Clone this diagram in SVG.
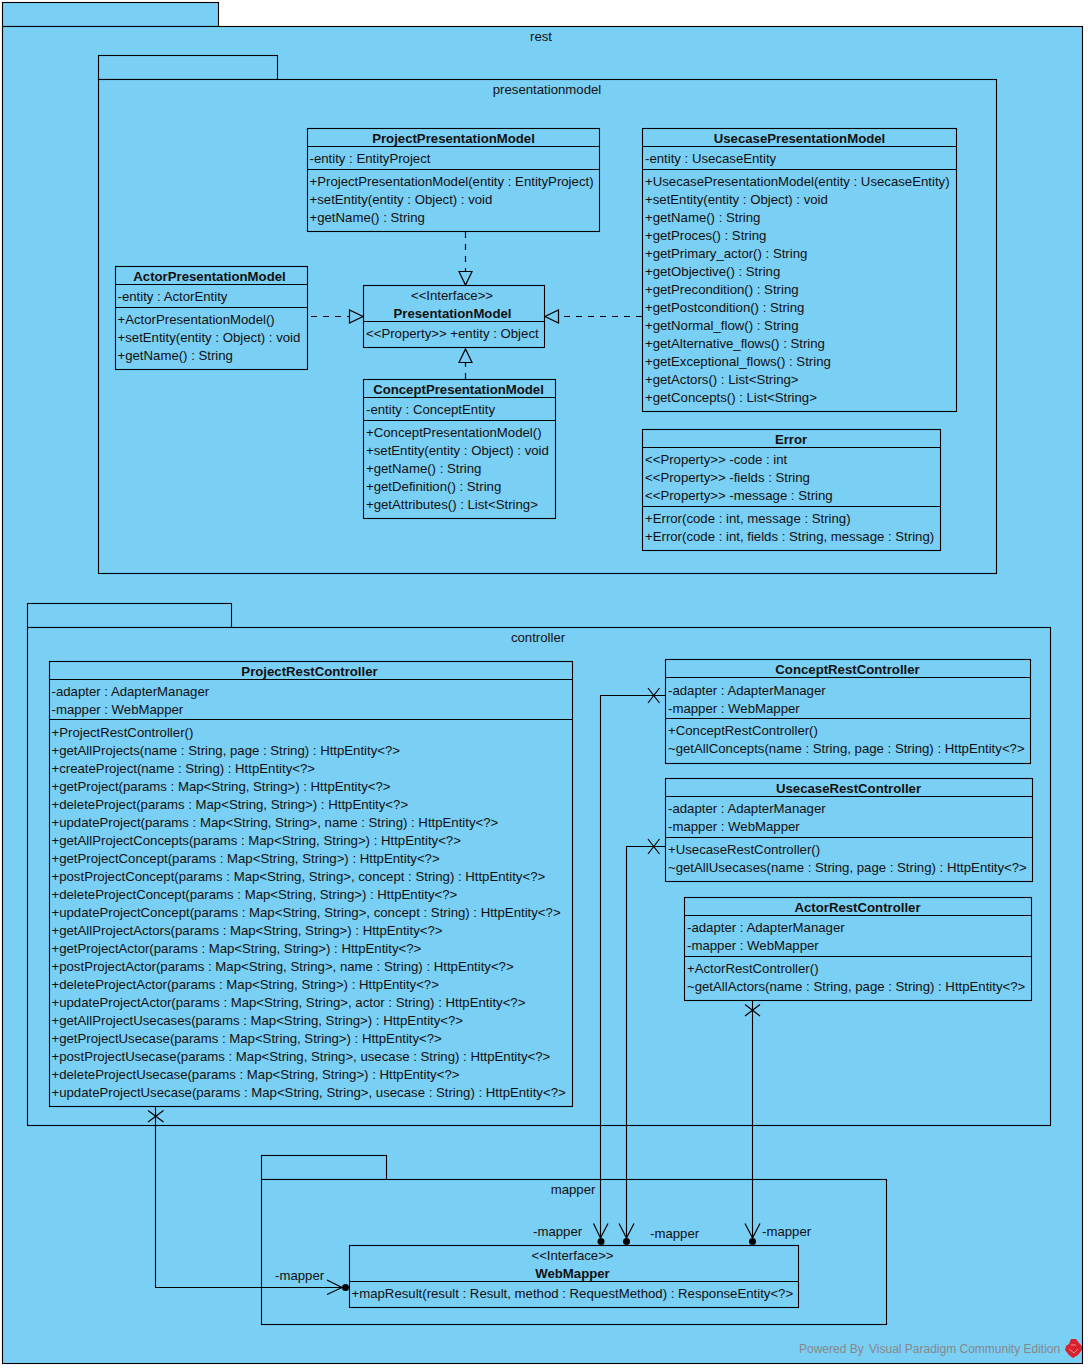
<svg xmlns="http://www.w3.org/2000/svg" width="1088" height="1369" viewBox="0 0 1088 1369">
<style>
text{font-family:"Liberation Sans",Arial,sans-serif;font-size:13.2px;fill:#111}
.t{font-weight:bold;text-anchor:middle}
.c{text-anchor:middle}
.n{fill:#7acff5;stroke:#000;stroke-width:1.1}
.l{fill:none;stroke:#000;stroke-width:1.1}
.k{fill:none;stroke:#000;stroke-width:1.2}
.d{fill:none;stroke:#000;stroke-width:1.2;stroke-dasharray:6 6}
.h{fill:#7acff5;stroke:#000;stroke-width:1.2}
.p{fill:#000}
.w{fill:#888;font-size:12px}
</style>
<rect width="1088" height="1369" fill="#fff"/>
<g id="pkg-rest">
<rect class="n" x="2.5" y="2.5" width="216" height="24"/>
<rect class="n" x="2.5" y="26.5" width="1080" height="1337"/>
<text class="c" x="541" y="41">rest</text>
</g>
<g id="pkg-presentationmodel">
<rect class="n" x="98.5" y="55.5" width="179" height="24"/>
<rect class="n" x="98.5" y="79.5" width="898" height="494"/>
<text class="c" x="547" y="94">presentationmodel</text>
</g>
<g id="pkg-controller">
<rect class="n" x="27.5" y="603.5" width="204" height="24"/>
<rect class="n" x="27.5" y="627.5" width="1023" height="498"/>
<text class="c" x="538" y="642">controller</text>
</g>
<g id="pkg-mapper">
<rect class="n" x="261.5" y="1155.5" width="125" height="24"/>
<rect class="n" x="261.5" y="1179.5" width="625" height="145"/>
<text class="c" x="573" y="1194">mapper</text>
</g>
<g id="ProjectPresentationModel">
<rect class="n" x="307.5" y="128.5" width="292" height="103"/>
<path class="l" d="M307.5 146.5H599.5M307.5 169.5H599.5"/>
<text class="t" x="453.500" y="143">ProjectPresentationModel</text>
<text x="309.500" y="163">-entity : EntityProject</text>
<text x="309.500" y="186">+ProjectPresentationModel(entity : EntityProject)</text>
<text x="309.500" y="204">+setEntity(entity : Object) : void</text>
<text x="309.500" y="222">+getName() : String</text>
</g>
<g id="UsecasePresentationModel">
<rect class="n" x="642.5" y="128.5" width="314" height="283"/>
<path class="l" d="M642.5 146.5H956.5M642.5 169.5H956.5"/>
<text class="t" x="799.5" y="143">UsecasePresentationModel</text>
<text x="645" y="163">-entity : UsecaseEntity</text>
<text x="645" y="186">+UsecasePresentationModel(entity : UsecaseEntity)</text>
<text x="645" y="204">+setEntity(entity : Object) : void</text>
<text x="645" y="222">+getName() : String</text>
<text x="645" y="240">+getProces() : String</text>
<text x="645" y="258">+getPrimary_actor() : String</text>
<text x="645" y="276">+getObjective() : String</text>
<text x="645" y="294">+getPrecondition() : String</text>
<text x="645" y="312">+getPostcondition() : String</text>
<text x="645" y="330">+getNormal_flow() : String</text>
<text x="645" y="348">+getAlternative_flows() : String</text>
<text x="645" y="366">+getExceptional_flows() : String</text>
<text x="645" y="384">+getActors() : List&lt;String&gt;</text>
<text x="645" y="402">+getConcepts() : List&lt;String&gt;</text>
</g>
<g id="ActorPresentationModel">
<rect class="n" x="115.5" y="266.5" width="192" height="103"/>
<path class="l" d="M115.5 284.5H307.5M115.5 307.5H307.5"/>
<text class="t" x="209.5" y="281">ActorPresentationModel</text>
<text x="117.500" y="301">-entity : ActorEntity</text>
<text x="117.500" y="324">+ActorPresentationModel()</text>
<text x="117.500" y="342">+setEntity(entity : Object) : void</text>
<text x="117.500" y="360">+getName() : String</text>
</g>
<g id="PresentationModel">
<rect class="n" x="363.5" y="285.5" width="181" height="62"/>
<path class="l" d="M363.5 321.5H544.5"/>
<text class="c" x="452" y="300">&lt;&lt;Interface&gt;&gt;</text>
<text class="t" x="452.5" y="318">PresentationModel</text>
<text x="366" y="338">&lt;&lt;Property&gt;&gt; +entity : Object</text>
</g>
<g id="ConceptPresentationModel">
<rect class="n" x="363.5" y="379.5" width="192" height="139"/>
<path class="l" d="M363.5 397.5H555.5M363.5 420.5H555.5"/>
<text class="t" x="458.5" y="394">ConceptPresentationModel</text>
<text x="366" y="414">-entity : ConceptEntity</text>
<text x="366" y="437">+ConceptPresentationModel()</text>
<text x="366" y="455">+setEntity(entity : Object) : void</text>
<text x="366" y="473">+getName() : String</text>
<text x="366" y="491">+getDefinition() : String</text>
<text x="366" y="509">+getAttributes() : List&lt;String&gt;</text>
</g>
<g id="Error">
<rect class="n" x="642.5" y="429.5" width="298" height="121"/>
<path class="l" d="M642.5 447.5H940.5M642.5 506.5H940.5"/>
<text class="t" x="791" y="444">Error</text>
<text x="645" y="464">&lt;&lt;Property&gt;&gt; -code : int</text>
<text x="645" y="482">&lt;&lt;Property&gt;&gt; -fields : String</text>
<text x="645" y="500">&lt;&lt;Property&gt;&gt; -message : String</text>
<text x="645" y="523">+Error(code : int, message : String)</text>
<text x="645" y="541">+Error(code : int, fields : String, message : String)</text>
</g>
<g id="ProjectRestController">
<rect class="n" x="49.5" y="661.5" width="523" height="445"/>
<path class="l" d="M49.5 679.5H572.5M49.5 719.5H572.5"/>
<text class="t" x="309.5" y="676">ProjectRestController</text>
<text x="51.500" y="696">-adapter : AdapterManager</text>
<text x="51.500" y="714">-mapper : WebMapper</text>
<text x="51.500" y="737">+ProjectRestController()</text>
<text x="51.500" y="755">+getAllProjects(name : String, page : String) : HttpEntity&lt;?&gt;</text>
<text x="51.500" y="773">+createProject(name : String) : HttpEntity&lt;?&gt;</text>
<text x="51.500" y="791">+getProject(params : Map&lt;String, String&gt;) : HttpEntity&lt;?&gt;</text>
<text x="51.500" y="809">+deleteProject(params : Map&lt;String, String&gt;) : HttpEntity&lt;?&gt;</text>
<text x="51.500" y="827">+updateProject(params : Map&lt;String, String&gt;, name : String) : HttpEntity&lt;?&gt;</text>
<text x="51.500" y="845">+getAllProjectConcepts(params : Map&lt;String, String&gt;) : HttpEntity&lt;?&gt;</text>
<text x="51.500" y="863">+getProjectConcept(params : Map&lt;String, String&gt;) : HttpEntity&lt;?&gt;</text>
<text x="51.500" y="881">+postProjectConcept(params : Map&lt;String, String&gt;, concept : String) : HttpEntity&lt;?&gt;</text>
<text x="51.500" y="899">+deleteProjectConcept(params : Map&lt;String, String&gt;) : HttpEntity&lt;?&gt;</text>
<text x="51.500" y="917">+updateProjectConcept(params : Map&lt;String, String&gt;, concept : String) : HttpEntity&lt;?&gt;</text>
<text x="51.500" y="935">+getAllProjectActors(params : Map&lt;String, String&gt;) : HttpEntity&lt;?&gt;</text>
<text x="51.500" y="953">+getProjectActor(params : Map&lt;String, String&gt;) : HttpEntity&lt;?&gt;</text>
<text x="51.500" y="971">+postProjectActor(params : Map&lt;String, String&gt;, name : String) : HttpEntity&lt;?&gt;</text>
<text x="51.500" y="989">+deleteProjectActor(params : Map&lt;String, String&gt;) : HttpEntity&lt;?&gt;</text>
<text x="51.500" y="1007">+updateProjectActor(params : Map&lt;String, String&gt;, actor : String) : HttpEntity&lt;?&gt;</text>
<text x="51.500" y="1025">+getAllProjectUsecases(params : Map&lt;String, String&gt;) : HttpEntity&lt;?&gt;</text>
<text x="51.500" y="1043">+getProjectUsecase(params : Map&lt;String, String&gt;) : HttpEntity&lt;?&gt;</text>
<text x="51.500" y="1061">+postProjectUsecase(params : Map&lt;String, String&gt;, usecase : String) : HttpEntity&lt;?&gt;</text>
<text x="51.500" y="1079">+deleteProjectUsecase(params : Map&lt;String, String&gt;) : HttpEntity&lt;?&gt;</text>
<text x="51.500" y="1097">+updateProjectUsecase(params : Map&lt;String, String&gt;, usecase : String) : HttpEntity&lt;?&gt;</text>
</g>
<g id="ConceptRestController">
<rect class="n" x="665.5" y="659.5" width="365" height="104"/>
<path class="l" d="M665.5 677.5H1030.5M665.5 718.5H1030.5"/>
<text class="t" x="847.5" y="674">ConceptRestController</text>
<text x="668" y="695">-adapter : AdapterManager</text>
<text x="668" y="713">-mapper : WebMapper</text>
<text x="668" y="735">+ConceptRestController()</text>
<text x="668" y="753">~getAllConcepts(name : String, page : String) : HttpEntity&lt;?&gt;</text>
</g>
<g id="UsecaseRestController">
<rect class="n" x="665.5" y="778.5" width="367" height="103"/>
<path class="l" d="M665.5 796.5H1032.5M665.5 837.5H1032.5"/>
<text class="t" x="848.5" y="793">UsecaseRestController</text>
<text x="668" y="813">-adapter : AdapterManager</text>
<text x="668" y="831">-mapper : WebMapper</text>
<text x="668" y="854">+UsecaseRestController()</text>
<text x="668" y="872">~getAllUsecases(name : String, page : String) : HttpEntity&lt;?&gt;</text>
</g>
<g id="ActorRestController">
<rect class="n" x="684.5" y="897.5" width="347" height="103"/>
<path class="l" d="M684.5 915.5H1031.5M684.5 956.5H1031.5"/>
<text class="t" x="857.5" y="912">ActorRestController</text>
<text x="687" y="932">-adapter : AdapterManager</text>
<text x="687" y="950">-mapper : WebMapper</text>
<text x="687" y="973">+ActorRestController()</text>
<text x="687" y="991">~getAllActors(name : String, page : String) : HttpEntity&lt;?&gt;</text>
</g>
<g id="WebMapper">
<rect class="n" x="349.5" y="1245.5" width="449" height="62"/>
<path class="l" d="M349.5 1281.5H798.5"/>
<text class="c" x="572.5" y="1260">&lt;&lt;Interface&gt;&gt;</text>
<text class="t" x="572.5" y="1278">WebMapper</text>
<text x="351.500" y="1298">+mapResult(result : Result, method : RequestMethod) : ResponseEntity&lt;?&gt;</text>
</g>
<g id="connectors">
<path class="d" d="M465.5 232V271"/>
<path class="h" d="M459 271.5H472L465.5 285Z"/>
<path class="d" d="M311 316.5H349"/>
<path class="h" d="M349.5 310V323L363 316.5Z"/>
<path class="d" d="M642 316.5H558"/>
<path class="h" d="M558.5 310V323L545 316.5Z"/>
<path class="d" d="M465.5 379V363"/>
<path class="h" d="M459 362.5H472L465.5 349Z"/>
<path class="l" d="M665 695.5H600.5V1241"/>
<path class="l" d="M665 846.5H626.5V1241"/>
<path class="l" d="M752.5 1001V1241"/>
<path class="l" d="M155.5 1107V1287.5H345"/>
<path class="k" d="M648 688L659.5 703M659.5 688L648 703"/>
<path class="k" d="M648 839L659.5 854M659.5 839L648 854"/>
<path class="k" d="M745 1004.500L760 1016M760 1004.500L745 1016"/>
<path class="k" d="M148 1110.500L163.500 1122M163.500 1110.500L148 1122"/>
<path class="k" d="M593.500 1223.500L600.500 1238L608 1223.500"/>
<path class="k" d="M619 1223.500L626.500 1238L634 1223.500"/>
<path class="k" d="M745 1223.500L752.500 1238L760 1223.500"/>
<path class="k" d="M327 1280L342 1287.500L327 1294.500"/>
<circle class="p" cx="601" cy="1241.500" r="3.500"/>
<circle class="p" cx="626.500" cy="1241.500" r="3.500"/>
<circle class="p" cx="752.500" cy="1241.500" r="3.500"/>
<circle class="p" cx="345.500" cy="1287.500" r="3.500"/>
<text x="533" y="1236">-mapper</text>
<text x="650" y="1238">-mapper</text>
<text x="762" y="1236">-mapper</text>
<text x="275" y="1280">-mapper</text>
</g>
<g id="watermark">
<text class="w" x="799" y="1353">Powered By</text>
<text class="w" x="869" y="1353">Visual Paradigm Community Edition</text>
<path fill="#d8232f" d="M1071 1339H1076L1079 1343L1082 1346V1350L1078 1355L1073 1358L1069 1355L1065 1350L1066 1346L1069 1344Z"/>
<path fill="none" stroke="#ef8e96" stroke-width="1" d="M1069 1349L1074 1353L1078 1349M1071 1345H1076"/>
</g>
</svg>
